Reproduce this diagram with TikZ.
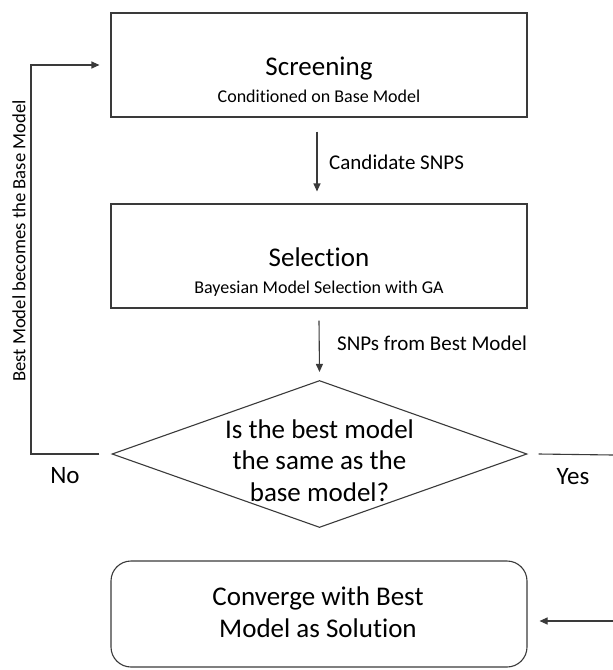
\documentclass[tikz,border=0pt]{standalone}
\usepackage{fontspec}
\setmainfont{Carlito}[Ligatures={NoCommon,NoContextual}]
\usetikzlibrary{shapes.geometric,arrows.meta}
\definecolor{ln}{HTML}{3A3A3A}
\tikzset{
  box/.style={draw=ln,line width=1.1pt,minimum width=416pt,minimum height=104pt,inner sep=0pt},
  rbox/.style={box,minimum height=106pt,rounded corners=20pt},
  dia/.style={draw=ln,line width=1.1pt,diamond,minimum width=415pt,minimum height=147pt,inner sep=0pt},
  ttl/.style={anchor=base,inner sep=0pt,font=\fontsize{27}{31}\selectfont},
  sub/.style={anchor=base,inner sep=0pt,font=\fontsize{18}{22}\selectfont},
  lbl/.style={anchor=west,inner sep=0pt,font=\fontsize{21}{25}\selectfont},
  yn/.style={inner sep=0pt,font=\fontsize{25}{29}\selectfont},
  conn/.style={draw=ln,line width=1.1pt},
  arr/.style={conn,-{Triangle[length=8pt,width=7pt]}}
}
\begin{document}
\begin{tikzpicture}[x=1pt,y=-1pt]
\useasboundingbox (0,0) rectangle (613,670);
% boxes
\node[box] (scr) at (319,65) {};
\node[ttl] (scrt) at (319,75) {Screening};
\node[sub] (scrs) at (319,102) {Conditioned on Base Model};
\node[box] (sel) at (319,256) {};
\node[ttl] (selt) at (319,266) {Selection};
\node[sub] (sels) at (319,293) {Bayesian Model Selection with GA};
\node[dia] (dec) at (319.5,454) {};
\node[inner sep=0pt,align=center,font=\fontsize{27}{31.5}\selectfont,anchor=base] (dect) at (319.5,501) {Is the best model\\the same as the\\base model?};
\node[rbox] (conv) at (319,614) {};
\node[inner sep=0pt,align=center,font=\fontsize{27}{32}\selectfont,anchor=base] (convt) at (318,637) {Converge with Best\\Model as Solution};
% arrows
\draw[arr] ([xshift=-2pt,yshift=-14pt]scr.south) -- ([xshift=-2pt,yshift=12pt]sel.north);
\node[lbl] (l1) at (329,162) {Candidate SNPS};
\draw[arr] ([yshift=-12pt]sel.south) -- ([yshift=8pt]dec.north);
\node[lbl] (l2) at (337,343) {SNPs from Best Model};
% yes branch
\coordinate (yend) at (613,455);
\draw[conn] ([xshift=11pt]dec.east) -- (yend);
\node[yn] (yes) at (573,477) {Yes};
\coordinate (cin) at (613,621);
\draw[arr] (cin) -- ([xshift=12pt]conv.east |- cin);
% no branch
\coordinate (nc1) at (31,454);
\coordinate (nc2) at (31,65);
\draw[arr] ([xshift=-12pt]dec.west) -- (nc1) -- (nc2) -- ([xshift=-11pt]scr.west);
\node[yn] (no) at (65,476) {No};
\node[rotate=90,inner sep=0pt,font=\fontsize{18.7}{22}\selectfont] (back) at (19,241) {Best Model becomes the Base Model};
\end{tikzpicture}
\end{document}
